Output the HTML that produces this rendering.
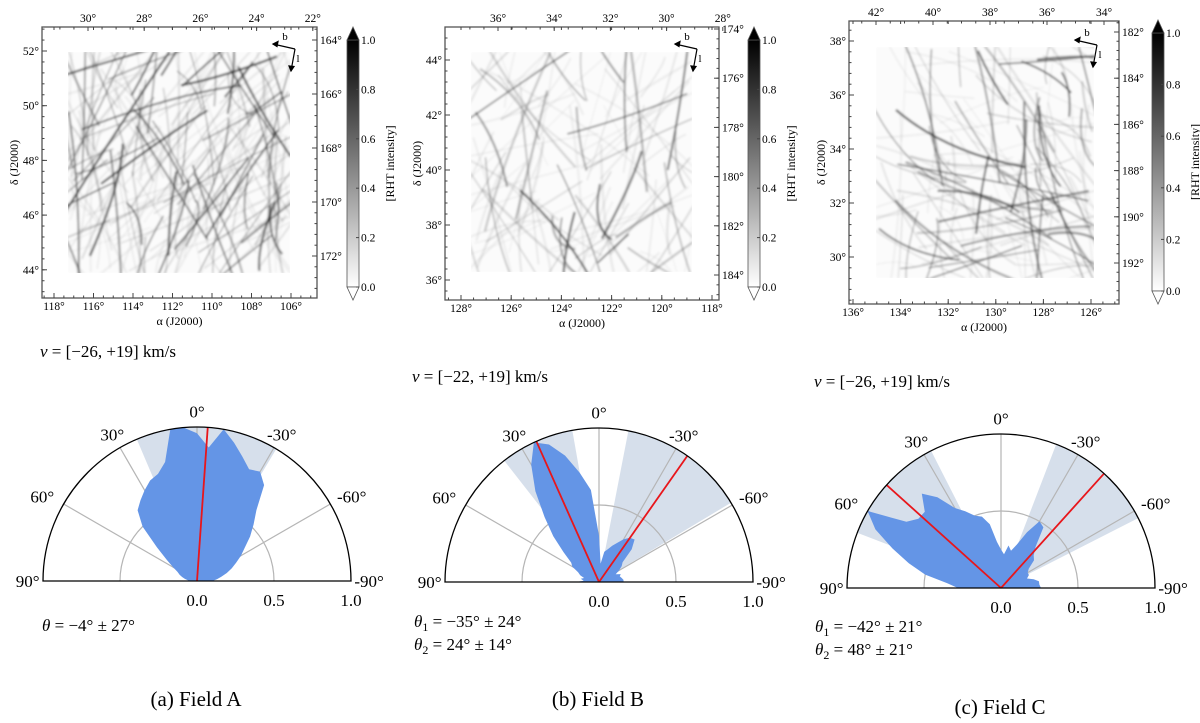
<!DOCTYPE html>
<html><head><meta charset="utf-8">
<style>
html,body{margin:0;padding:0;background:#fff;}
svg{display:block;font-family:"Liberation Serif",serif;}
</style></head>
<body>
<svg id="fig" width="1200" height="723" viewBox="0 0 1200 723" xmlns="http://www.w3.org/2000/svg">
<defs>
<linearGradient id="cbar" x1="0" y1="1" x2="0" y2="0">
<stop offset="0" stop-color="#fff"/><stop offset="1" stop-color="#000"/>
</linearGradient>
<filter id="blur" x="-10%" y="-10%" width="120%" height="120%"><feGaussianBlur stdDeviation="1.1"/></filter>
</defs>
<g id="root"></g>
</svg>
<script>
// ---- Polar histogram data (angles in degrees, radii normalised) ----
const polarAngles = [90,85,80,75,70,65,60,55,50,45,40,35,30,25,20,15,10,5,0,-5,-10,-15,-20,-25,-30,-35,-40,-45,-50,-55,-60,-65,-70,-75,-80,-85,-90];
const radiiA = [.05,.06,.08,.1,.12,.14,.18,.24,.34,.5,.6,.64,.68,.72,.74,.8,1.0,1.0,.96,.87,1.0,.93,.86,.8,.82,.76,.6,.52,.45,.38,.33,.28,.24,.2,.16,.13,.1];
const radiiB = [.15,.1,.12,.1,.13,.15,.2,.22,.3,.42,.55,.72,.88,1.0,.95,.85,.72,.6,.3,.12,.2,.22,.25,.28,.32,.35,.36,.3,.2,.18,.15,.12,.15,.14,.15,.16,.16];
const radiiC = [.28,.35,.5,.62,.75,.9,1.0,.75,.7,.7,.8,.72,.6,.55,.5,.48,.42,.3,.25,.22,.28,.25,.3,.4,.5,.48,.35,.3,.28,.22,.2,.2,.18,.22,.25,.25,.26];
const meansA = [-4];  const sdA = [27];
const meansB = [-35, 24]; const sdB = [24, 14];
const meansC = [-42, 48]; const sdC = [21, 21];
const radialTicks = [0.0, 0.5, 1.0];
const angleTicks = [0, 30, -30, 60, -60, 90, -90];

const NS = "http://www.w3.org/2000/svg";
const root = document.getElementById('root');
function mk(tag, attrs, parent){
  const e = document.createElementNS(NS, tag);
  for (const k in attrs) e.setAttribute(k, attrs[k]);
  (parent||root).appendChild(e);
  return e;
}
function txt(x,y,s,size,anchor,parent,extra){
  const t = mk('text',Object.assign({x:x,y:y,'font-size':size,'text-anchor':anchor||'middle',fill:'#000'},extra||{}),parent);
  t.textContent = s;
  return t;
}

// seeded PRNG for filament texture
let seed = 12345;
function rnd(){ seed = (seed*1103515245 + 12345) % 2147483648; return seed/2147483648; }

function skyPanel(p){
  const g = mk('g',{});
  
  
  const img = mk('g',{filter:'url(#blur)'},g);
  
  
  mk('rect',{x:p.ix0,y:p.iy0,width:p.ix1-p.ix0,height:p.iy1-p.iy0,fill:'#fbfbfb'},img);
  const clip = 'clip-'+p.name;
  const cp = mk('clipPath',{id:clip},g);
  mk('rect',{x:p.ix0,y:p.iy0,width:p.ix1-p.ix0,height:p.iy1-p.iy0},cp);
  img.setAttribute('clip-path','url(#'+clip+')');
  const w=p.ix1-p.ix0,h=p.iy1-p.iy0;
  for(let i=0;i<p.n;i++){
    const x=p.ix0+rnd()*w, y=p.iy0+rnd()*h;
    const ang = (p.dir + (rnd()-0.5)*p.spread)*Math.PI/180;
    const L = 40+rnd()*160;
    const dx=Math.cos(ang)*L/2, dy=Math.sin(ang)*L/2;
    const bend=(rnd()-0.5)*30;
    const op = 0.06+Math.pow(rnd(),3)*0.6;
    mk('path',{d:`M${x-dx},${y-dy} Q${x+bend},${y-bend} ${x+dx},${y+dy}`,stroke:'#000','stroke-opacity':op.toFixed(2),'stroke-width':(0.8+rnd()*1.6).toFixed(1),fill:'none'},img);
  }
  const fr = mk('rect',{x:p.x0,y:p.y0,width:p.x1-p.x0,height:p.y1-p.y0,fill:'none',stroke:'#555','stroke-width':1.3},g);
  
  
  p.bottom.forEach((s,i)=>{ const x=p.bx0+i*p.bdx;
    mk('line',{x1:x,y1:p.y1,x2:x,y2:p.y1-5,stroke:'#444'},g);
    mk('line',{x1:x,y1:p.y0,x2:x,y2:p.y0+3,stroke:'#444'},g);
    txt(x,p.y1+12,s,11.5,'middle',g);});
  for(let x=p.bx0-p.bdx/4*2;x<p.x1;x+=p.bdx/4){ if(x>p.x0){mk('line',{x1:x,y1:p.y1,x2:x,y2:p.y1-2.5,stroke:'#444'},g);} }
  p.top.forEach((s,i)=>{ const x=p.tx0+i*p.tdx;
    mk('line',{x1:x,y1:p.y0,x2:x,y2:p.y0+4,stroke:'#444'},g);
    txt(x,p.y0-5,s,11.5,'middle',g);});
  for(let x=p.tx0-p.tdx/2;x<p.x1;x+=p.tdx/4){ if(x>p.x0){mk('line',{x1:x,y1:p.y0,x2:x,y2:p.y0+2.5,stroke:'#444'},g);} }
  p.left.forEach((s,i)=>{ const y=p.ly0+i*p.ldy;
    mk('line',{x1:p.x0,y1:y,x2:p.x0+5,y2:y,stroke:'#444'},g);
    txt(p.x0-3,y+4,s,11.5,'end',g);});
  for(let y=p.ly0-p.ldy;y<p.y1;y+=p.ldy/5){ if(y>p.y0){mk('line',{x1:p.x0,y1:y,x2:p.x0+2.5,y2:y,stroke:'#444'},g);} }
  p.right.forEach((s,i)=>{ const y=p.ry0+i*p.rdy;
    mk('line',{x1:p.x1,y1:y,x2:p.x1-5,y2:y,stroke:'#444'},g);
    txt(p.x1+3,y+4,s,11.5,'start',g);});
  for(let y=p.ry0-p.rdy;y<p.y1;y+=p.rdy/5){ if(y>p.y0){mk('line',{x1:p.x1,y1:y,x2:p.x1-2.5,y2:y,stroke:'#444'},g);} }
  const xt = txt((p.x0+p.x1)/2,p.y1+27,'α (J2000)',12,'middle',g);
  
  
  const yt = txt(0,0,'δ (J2000)',12,'middle',g,{transform:`translate(${p.x0-24},${(p.y0+p.y1)/2}) rotate(-90)`});
  
  
  const ax=p.x1-22, ay=p.y0+22+p.compassDy;
  const cg = mk('g',{stroke:'#000','stroke-width':1.2,fill:'none'},g);
  
  
  mk('line',{x1:ax,y1:ay,x2:ax-22,y2:ay-5},cg);
  mk('line',{x1:ax,y1:ay,x2:ax-4,y2:ay+22},cg);
  mk('path',{d:`M${ax-22},${ay-5} l5,-2.5 l-1,5 z M${ax-4},${ay+22} l-2,-5 l5,0.5 z`,fill:'#000'},cg);
  txt(ax-10,ay-9,'b',11,'middle',g);
  txt(ax+3,ay+13,'l',11,'middle',g);
  const cb = mk('g',{},g);
  
  
  const cx0=p.cbx, cw=12, ct=p.cby0, cbot=p.cby1, tri=13;
  mk('rect',{x:cx0,y:ct+tri,width:cw,height:cbot-ct-2*tri,fill:'url(#cbar)',stroke:'#555','stroke-width':0.8},cb);
  mk('path',{d:`M${cx0},${ct+tri} L${cx0+cw/2},${ct} L${cx0+cw},${ct+tri} Z`,fill:'#000',stroke:'#555','stroke-width':0.8},cb);
  mk('path',{d:`M${cx0},${cbot-tri} L${cx0+cw/2},${cbot} L${cx0+cw},${cbot-tri} Z`,fill:'#fff',stroke:'#555','stroke-width':0.8},cb);
  const cbTicks=[0,0.2,0.4,0.6,0.8,1.0];
  cbTicks.forEach(v=>{ const y=(cbot-tri)-v*(cbot-ct-2*tri);
    mk('line',{x1:cx0+cw-3,y1:y,x2:cx0+cw,y2:y,stroke:'#444'},cb);
    txt(cx0+cw+2,y+4,v.toFixed(1),11.5,'start',cb);});
  const cl = txt(0,0,'[RHT intensity]',12,'middle',cb,{transform:`translate(${cx0+cw+35},${(ct+cbot)/2}) rotate(-90)`});
  
  
}

skyPanel({name:'field-a-map',x0:42,x1:317,y0:27,y1:298,ix0:68,ix1:290,iy0:52,iy1:273,n:200,dir:-70,spread:110,
  bottom:['118°','116°','114°','112°','110°','108°','106°'],bx0:54,bdx:39.5,
  top:['30°','28°','26°','24°','22°'],tx0:88,tdx:56.2,
  left:['52°','50°','48°','46°','44°'],ly0:51,ldy:54.7,
  right:['164°','166°','168°','170°','172°'],ry0:40,rdy:54,compassDy:0,
  cbx:347,cby0:27,cby1:300});
skyPanel({name:'field-b-map',x0:445,x1:719,y0:27,y1:300,ix0:471,ix1:692,iy0:52,iy1:272,n:110,dir:-80,spread:140,
  bottom:['128°','126°','124°','122°','120°','118°'],bx0:461,bdx:50.2,
  top:['36°','34°','32°','30°','28°'],tx0:498,tdx:56.2,
  left:['44°','42°','40°','38°','36°'],ly0:60,ldy:55,
  right:['174°','176°','178°','180°','182°','184°'],ry0:29,rdy:49.2,compassDy:0,
  cbx:748,cby0:27,cby1:300});
skyPanel({name:'field-c-map',x0:849,x1:1119,y0:21,y1:304,ix0:876,ix1:1094,iy0:47,iy1:278,n:130,dir:40,spread:120,
  bottom:['136°','134°','132°','130°','128°','126°'],bx0:853,bdx:47.6,
  top:['42°','40°','38°','36°','34°'],tx0:876,tdx:57,
  left:['38°','36°','34°','32°','30°'],ly0:41,ldy:54,
  right:['182°','184°','186°','188°','190°','192°'],ry0:32,rdy:46.2,compassDy:2,
  cbx:1152,cby0:20,cby1:304});

function polar(p, radii, means, sds){
  const g = mk('g',{});
  
  
  const cx=p.cx, cy=p.cy, R=p.R;
  const pt=(a,r)=>[cx - R*r*Math.sin(a*Math.PI/180), cy - R*r*Math.cos(a*Math.PI/180)];
  means.forEach((m,i)=>{
    const a0=m-sds[i], a1=m+sds[i];
    let d=`M${cx},${cy}`;
    for(let a=a0;a<=a1+0.01;a+=1){ const q=pt(Math.max(-90,Math.min(90,a)),1); d+=` L${q[0].toFixed(1)},${q[1].toFixed(1)}`; }
    const b = mk('path',{d:d+'Z',fill:'#cfd9e8','fill-opacity':0.85},g);
    
    
  });
  [30,-30,60,-60].forEach(a=>{ const q=pt(a,1); mk('line',{x1:cx,y1:cy,x2:q[0],y2:q[1],stroke:'#b5b5b5','stroke-width':1.2},g); });
  mk('line',{x1:cx,y1:cy,x2:cx,y2:cy-R,stroke:'#b5b5b5','stroke-width':1.2},g);
  mk('path',{d:`M${cx-R/2},${cy} A${R/2},${R/2} 0 0 1 ${cx+R/2},${cy}`,fill:'none',stroke:'#b5b5b5','stroke-width':1.2},g);
  let d=`M${cx},${cy}`;
  polarAngles.forEach((a,i)=>{ const q=pt(a,radii[i]); d+=` L${q[0].toFixed(1)},${q[1].toFixed(1)}`; });
  const h = mk('path',{d:d+'Z',fill:'#6495e6'},g);
  
  
  means.forEach((m,i)=>{ const q=pt(m,1);
    const l = mk('line',{x1:cx,y1:cy,x2:q[0],y2:q[1],stroke:'#e8161b','stroke-width':1.8},g);
    
    
  });
  mk('path',{d:`M${cx-R},${cy} A${R},${R} 0 0 1 ${cx+R},${cy} Z`,fill:'none',stroke:'#000','stroke-width':1.3},g);
  angleTicks.forEach(a=>{
    const q=pt(a,1.1);
    let anchor='middle', dx=0, dy=6;
    if(a===90){anchor='end';dx=12;dy=6;} if(a===-90){anchor='start';dx=-12;dy=6;}
    if(a===60){dx=-8;} if(a===-60){dx=8;}
    txt(q[0]+dx,q[1]+dy,(a===0?'0':String(a))+'°',17,anchor,g);
  });
  radialTicks.forEach(r=>{ txt(cx+R*r,cy+25,r.toFixed(1),17,'middle',g); });
  const v = mk('text',{x:p.vx,y:p.vy,'font-size':17,fill:'#000'},g);
  
  
  v.innerHTML = '<tspan font-style="italic">v</tspan> = [−'+p.v[0]+', +'+p.v[1]+'] km/s';
  means.forEach((m,i)=>{
    const t = mk('text',{x:p.tx,y:p.ty+i*23,'font-size':17,fill:'#000'},g);
    
    
    const sub = means.length>1 ? '<tspan font-size="12" dy="4">'+(i+1)+'</tspan><tspan dy="-4"> </tspan>' : ' ';
    t.innerHTML = '<tspan font-style="italic">θ</tspan>'+sub+'= '+(m<0?'−'+(-m):m)+'° ± '+sds[i]+'°';
  });
}
polar({name:'field-a-polar',cx:197,cy:581,R:154,vx:40,vy:357,v:[26,19],tx:42,ty:631}, radiiA, meansA, sdA);
polar({name:'field-b-polar',cx:599,cy:582,R:154,vx:412,vy:382,v:[22,19],tx:414,ty:627}, radiiB, meansB, sdB);
polar({name:'field-c-polar',cx:1001,cy:588,R:154,vx:814,vy:387,v:[26,19],tx:815,ty:632}, radiiC, meansC, sdC);

[['(a) Field A',196,706],['(b) Field B',598,706],['(c) Field C',1000,714]].forEach((c,i)=>{
  const t = txt(c[1],c[2],c[0],21,'middle');
  
  
});
</script>
</body></html>
